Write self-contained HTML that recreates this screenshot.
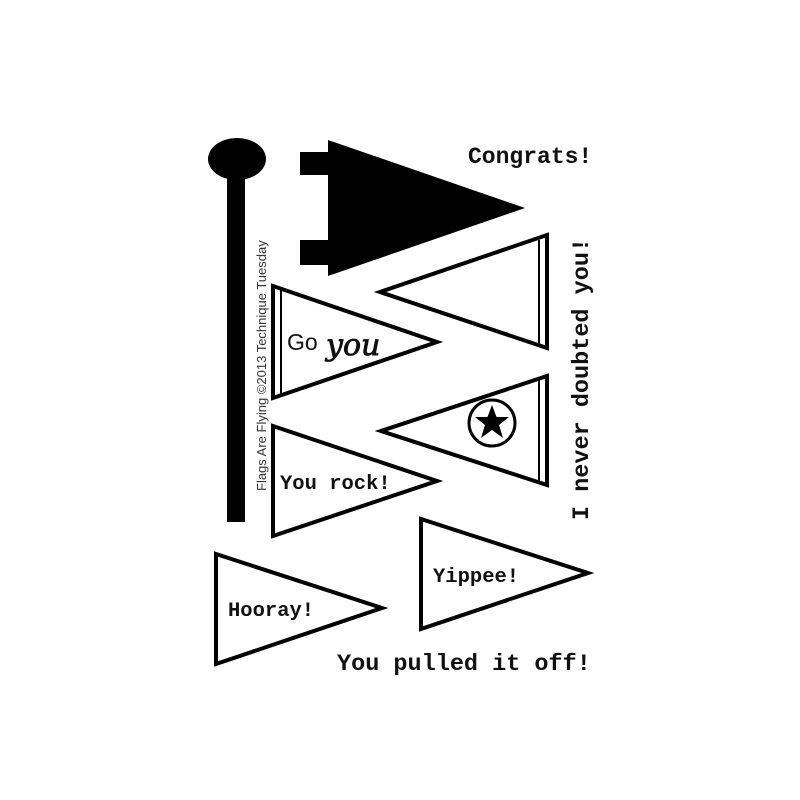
<!DOCTYPE html>
<html><head><meta charset="utf-8"><style>
html,body{margin:0;padding:0;background:#fff;}
svg{display:block;}
.m{font-family:"Liberation Mono",monospace;font-weight:bold;fill:#111;}
</style></head><body>
<svg width="800" height="800" viewBox="0 0 800 800" xmlns="http://www.w3.org/2000/svg">
<rect width="800" height="800" fill="#fff"/>
<ellipse cx="237" cy="159" rx="29" ry="21" fill="#000"/>
<rect x="227" y="170" width="18" height="352" fill="#000"/>
<polygon points="300,152 328,152 328,140 525,208 328,276 328,265 300,265 300,240 328,240 328,175 300,175" fill="#000"/>
<g fill="#fff" stroke="#000" stroke-width="4" stroke-linejoin="miter">
<polygon points="547,235 547,348 380,292"/>
<line x1="539" y1="240" x2="539" y2="345" stroke-width="2"/>
<polygon points="273,286 273,398 437,342"/>
<line x1="281" y1="290" x2="281" y2="395" stroke-width="2"/>
<polygon points="547,376 547,485 381,431"/>
<line x1="539" y1="380" x2="539" y2="482" stroke-width="2"/>
<circle cx="492" cy="423" r="23" stroke-width="3"/>
<polygon points="273,426 273,536 437,481"/>
<polygon points="421,519 421,629 588,573"/>
<polygon points="216,554 216,664 382,608"/>
</g>
<polygon fill="#000" points="492,405 496.5,417 509,417 499,425 503,438 492,430 481,438 485,425 475,417 487.5,417"/>
<text x="287" y="350" font-family="Liberation Sans,sans-serif" font-size="23" fill="#111">Go</text>
<text x="326" y="355" font-family="DejaVu Serif,serif" font-style="italic" font-size="30" fill="#111" stroke="#111" stroke-width="0.8">you</text>
<text class="m" x="280" y="489" font-size="20.5">You rock!</text>
<text class="m" x="433" y="582" font-size="20.5">Yippee!</text>
<text class="m" x="228" y="616" font-size="20.5">Hooray!</text>
<text class="m" x="468" y="163" font-size="23">Congrats!</text>
<text class="m" x="337" y="670" font-size="23.5">You pulled it off!</text>
<text class="m" font-size="23.5" transform="translate(588,520) rotate(-90)">I never doubted you!</text>
<text font-family="Liberation Sans,sans-serif" font-size="13" fill="#333" transform="translate(266,491) rotate(-90)">Flags Are Flying ©2013 Technique Tuesday</text>
</svg>
</body></html>
